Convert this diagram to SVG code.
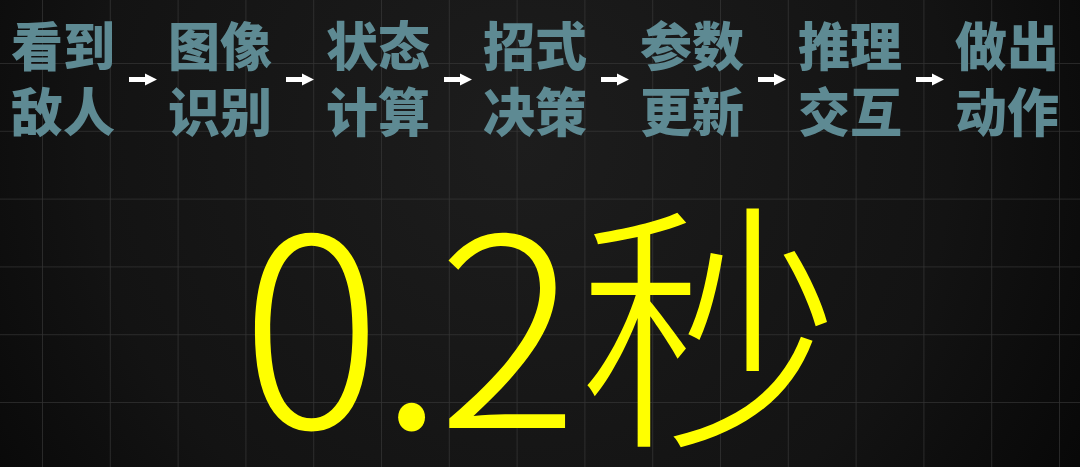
<svg xmlns="http://www.w3.org/2000/svg" width="1080" height="467" viewBox="0 0 1080 467">
  <defs>
    <radialGradient id="bg" cx="520" cy="140" r="720" gradientUnits="userSpaceOnUse">
      <stop offset="0" stop-color="#1d1d1d"/>
      <stop offset="0.6" stop-color="#131313"/>
      <stop offset="1" stop-color="#040404"/>
    </radialGradient>
    <pattern id="grid" x="42" y="63" width="67.8" height="67.8" patternUnits="userSpaceOnUse">
      <path d="M0 0V67.8M0 0H67.8" fill="none" stroke="#3a3a3a" stroke-width="1.6" stroke-opacity="0.8"/>
    </pattern>
    <path id="arr" d="M0 -2.6H16V-6L28 0L16 6V2.6H0Z"/>
  </defs>
  <style>
    .step { font-family: "Noto Sans CJK SC", "Noto Sans", sans-serif; font-weight: 900; font-size: 52px; fill: #5e8a93; }
    .big { font-family: "Noto Sans CJK SC", "Noto Sans", sans-serif; font-weight: 300; font-size: 263px; fill: #ffff00; }
    .arrow { fill: #ffffff; }
  </style>
  <rect width="1080" height="467" fill="url(#bg)"/>
  <rect width="1080" height="467" fill="url(#grid)"/>

  <g id="node-1" class="step"><text x="11" y="66">看到</text><text x="11" y="132">敌人</text></g>
  <g id="node-2" class="step"><text x="168" y="66">图像</text><text x="168" y="132">识别</text></g>
  <g id="node-3" class="step"><text x="326" y="66">状态</text><text x="326" y="132">计算</text></g>
  <g id="node-4" class="step"><text x="483" y="66">招式</text><text x="483" y="132">决策</text></g>
  <g id="node-5" class="step"><text x="640" y="66">参数</text><text x="640" y="132">更新</text></g>
  <g id="node-6" class="step"><text x="798" y="66">推理</text><text x="798" y="132">交互</text></g>
  <g id="node-7" class="step"><text x="955" y="66">做出</text><text x="955" y="132">动作</text></g>

  <g id="connectors" class="arrow">
    <use href="#arr" x="129" y="79.5"/>
    <use href="#arr" x="286" y="79.5"/>
    <use href="#arr" x="444" y="79.5"/>
    <use href="#arr" x="601" y="79.5"/>
    <use href="#arr" x="758" y="79.5"/>
    <use href="#arr" x="916" y="79.5"/>
  </g>

  <g id="title"><text class="big" x="241" y="428">0<tspan dx="-3">.</tspan><tspan dx="-7">2</tspan>秒</text></g>
</svg>
